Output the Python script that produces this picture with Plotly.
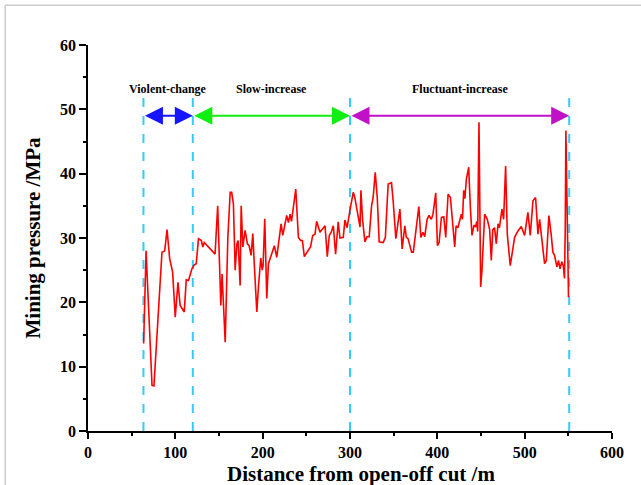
import plotly.graph_objects as go

# Measured mining pressure along the face advance
distance = [63.7, 66.5, 73.3, 75.5, 84.7, 87.8, 90.5, 93.5, 96.9, 99.9, 103.0, 105.5, 110.2, 112.5, 115.1,
            119.0, 121.5, 123.9, 126.5, 129.8, 131.5, 133.1, 145.5, 148.5, 152.1, 153.5, 157.1, 160.1,
            162.8, 164.5, 166.5, 168.5, 170.5, 171.9, 174.2, 175.4, 177.3, 179.9, 182.5, 184.5, 186.8,
            188.7, 190.5, 193.3, 195.1, 197.8, 199.5, 200.5, 202.4, 204.7, 206.6, 209.5, 213.4, 216.1,
            221.1, 223.0, 227.5, 229.5, 231.4, 233.0, 234.5, 237.9, 240.9, 243.5, 245.5, 247.7, 252.2,
            254.8, 257.3, 259.9, 261.8, 265.6, 268.5, 271.4, 274.0, 276.3, 278.5, 280.9, 283.5, 286.5,
            288.5, 292.3, 294.2, 296.7, 299.9, 303.7, 305.5, 309.5, 311.5, 312.5, 314.5, 317.1, 319.5,
            322.0, 324.7, 326.5, 328.9, 331.2, 333.4, 338.0, 340.5, 343.7, 347.5, 349.4, 352.5, 357.1,
            359.7, 362.8, 364.5, 366.5, 370.5, 372.5, 376.9, 378.8, 381.1, 383.5, 385.6, 388.3, 390.5,
            393.1, 395.0, 398.2, 400.1, 402.0, 404.7, 407.4, 409.6, 412.3, 415.0, 416.5, 419.9, 421.5,
            423.5, 427.5, 428.8, 430.2, 431.5, 433.3, 435.9, 437.8, 439.7, 442.0, 443.9, 445.1, 446.2,
            447.7, 449.6, 451.1, 454.2, 457.2, 459.9, 461.8, 463.5, 465.5, 467.5, 469.5, 471.1, 474.0,
            475.9, 478.2, 480.1, 483.5, 488.5, 492.3, 496.1, 499.9, 503.7, 506.4, 509.5, 512.5, 515.2,
            517.1, 520.1, 522.8, 524.8, 527.7, 530.3, 532.3, 534.2, 536.9, 538.8, 540.5, 542.5, 544.2,
            545.6, 546.5, 547.2, 548.7, 550.2]
pressure = [13.6, 28.0, 7.1, 7.0, 27.8, 28.0, 31.3, 26.8, 24.7, 17.7, 23.1, 19.5, 18.5, 23.5, 23.4,
            25.2, 25.8, 26.0, 29.9, 29.6, 28.6, 29.3, 27.5, 35.0, 19.5, 24.4, 13.8, 30.0,
            37.1, 37.1, 35.3, 25.0, 29.1, 29.6, 22.6, 35.0, 28.6, 31.2, 29.1, 28.8, 27.3,
            30.7, 25.7, 18.5, 22.3, 26.9, 25.0, 25.7, 33.0, 20.6, 26.0, 27.1, 28.8, 27.0,
            32.2, 30.4, 33.5, 32.4, 33.7, 32.6, 34.0, 37.6, 30.1, 29.6, 29.6, 27.1, 28.1,
            28.6, 30.4, 30.6, 32.6, 30.9, 31.4, 31.9, 27.1, 30.4, 30.9, 31.9, 27.5, 32.5,
            30.0, 30.1, 32.8, 31.6, 34.3, 37.1, 36.3, 33.2, 31.7, 37.4, 32.7, 29.4, 30.2,
            30.2, 35.0, 36.3, 40.2, 36.3, 29.4, 29.3, 30.1, 38.4, 38.6, 35.8, 29.9, 34.5,
            28.3, 31.9, 30.1, 29.9, 27.8, 27.8, 33.2, 34.9, 30.1, 30.9, 30.2, 32.9, 33.5,
            32.9, 33.7, 37.0, 28.8, 29.3, 33.2, 33.3, 30.1, 36.8, 36.3, 34.2, 28.6, 31.9,
            31.6, 33.7, 32.9, 37.4, 36.1, 39.2, 41.0, 34.8, 30.4, 32.0, 31.7, 32.6, 31.0,
            48.0, 22.4, 25.0, 33.7, 32.9, 31.3, 26.5, 31.3, 31.6, 29.1, 32.2, 31.6, 34.5,
            32.9, 41.2, 30.6, 25.7, 30.1, 31.1, 31.8, 30.4, 34.0, 30.4, 35.8, 36.3, 30.6,
            32.9, 29.6, 26.0, 26.5, 33.5, 30.6, 27.8, 27.3, 25.5, 26.5, 25.2, 26.3, 25.7,
            23.7, 31.7, 46.7, 30.1, 20.8]

# Stage boundaries and labels
boundaries = [63.5, 120, 300, 551]
stage_names = ["Violent-change", "Slow-increase", "Fluctuant-increase"]
stage_colors = ["#1515ff", "#11ee11", "#c010c8"]
arrow_level = 49.0
label_level = 53.2
boundary_top = 52

x_ticks = [0, 100, 200, 300, 400, 500, 600]
y_ticks = [0, 10, 20, 30, 40, 50, 60]
x_title = "Distance from open-off cut /m"
y_title = "Mining pressure /MPa"

FONT = "Liberation Serif"

fig = go.Figure()

for b in boundaries:
    fig.add_trace(go.Scatter(x=[b, b], y=[0, boundary_top], mode="lines",
                             line=dict(color="#33ccff", width=2, dash="dash"),
                             hoverinfo="skip", showlegend=False))

fig.add_trace(go.Scatter(x=distance, y=pressure, mode="lines",
                         line=dict(color="#ff0000", width=1.6), showlegend=False))

annotations = []
for i, name in enumerate(stage_names):
    x0, x1 = boundaries[i], boundaries[i + 1]
    annotations.append(dict(x=x1, y=arrow_level, ax=x0, ay=arrow_level,
                            xref="x", yref="y", axref="x", ayref="y",
                            text="", showarrow=True, arrowhead=2, startarrowhead=2,
                            arrowside="end+start", arrowsize=1.8, startarrowsize=1.8,
                            arrowwidth=2, arrowcolor=stage_colors[i],
                            standoff=0, startstandoff=0))
    annotations.append(dict(x=(x0 + x1) / 2, y=label_level, xref="x", yref="y",
                            text="<b>%s</b>" % name, showarrow=False,
                            font=dict(family=FONT, size=12, color="black")))

# x-axis title (placed slightly right of plot centre as in the original)
annotations.append(dict(x=0.521, y=-0.075, xref="paper", yref="paper", showarrow=False,
                        xanchor="center", yanchor="top", text="<b>%s</b>" % x_title,
                        font=dict(family=FONT, size=21, color="black")))

fig.update_layout(
    width=641, height=485,
    margin=dict(l=88, r=29, t=45, b=54),
    paper_bgcolor="white", plot_bgcolor="white",
    annotations=annotations,
    shapes=[
        dict(type="line", xref="paper", yref="paper", x0=-0.158, x1=1.2, y0=1.103, y1=1.103,
             line=dict(color="#cccccc", width=1.5), layer="above"),
        dict(type="line", xref="paper", yref="paper", x0=-0.158, x1=-0.158, y0=-0.2, y1=1.103,
             line=dict(color="#cccccc", width=1.5), layer="above"),
    ],
    xaxis=dict(range=[0, 600], tickvals=x_ticks, ticktext=[str(v) for v in x_ticks],
               showgrid=False, zeroline=False, showline=True, linecolor="black", linewidth=1.5,
               ticks="outside", ticklen=6, tickwidth=1.5, tickcolor="black",
               minor=dict(dtick=50, ticks="outside", ticklen=3, tickwidth=1.5, tickcolor="black", showgrid=False),
               tickfont=dict(family=FONT, size=16, color="black", weight="bold")),
    yaxis=dict(range=[0, 60], tickvals=y_ticks, ticktext=[str(v) for v in y_ticks],
               showgrid=False, zeroline=False, showline=True, linecolor="black", linewidth=1.5,
               ticks="outside", ticklen=7, tickwidth=1.5, tickcolor="black",
               minor=dict(dtick=5, ticks="outside", ticklen=3, tickwidth=1.5, tickcolor="black", showgrid=False),
               tickfont=dict(family=FONT, size=16, color="black", weight="bold"),
               title=dict(text="<b>%s</b>" % y_title, standoff=14,
                          font=dict(family=FONT, size=21, color="black"))),
)

fig.write_html("out.html", config={"displayModeBar": False},
               post_script="document.body.style.margin='0';")
